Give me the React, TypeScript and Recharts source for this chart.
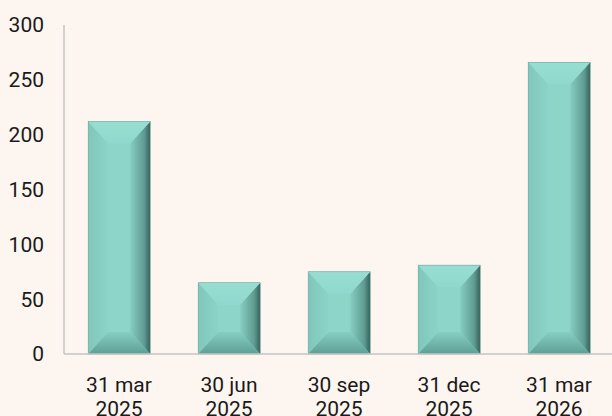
import { Bar, BarChart, XAxis, YAxis } from "recharts"

const categories = ["31 mar|2025", "30 jun|2025", "30 sep|2025", "31 dec|2025", "31 mar|2026"]
const values = [212, 65, 75, 81, 266]
const yTicks = [0, 50, 100, 150, 200, 250, 300]

const data = categories.map((c, i) => ({ name: c, value: values[i] }))

const BG = "#fdf5ef"
const FONT = "Roboto, 'Noto Sans', sans-serif"

function BevelBar(props: any) {
  const { x, y, width: w, height: h } = props
  if (!w || !h || h <= 0) return null
  const d = Math.min(22, w / 2, h / 2)
  const ds = Math.min(20, w / 2, h / 2)
  return (
    <g>
      <rect x={x} y={y} width={w} height={h} fill="#8dd4c9" />
      {/* left face */}
      <polygon points={`${x},${y} ${x + ds},${y + d} ${x + ds},${y + h - d} ${x},${y + h}`} fill="url(#bvLeft)" />
      {/* right face */}
      <polygon points={`${x + w},${y} ${x + w - ds},${y + d} ${x + w - ds},${y + h - d} ${x + w},${y + h}`} fill="url(#bvRight)" />
      {/* top face */}
      <polygon points={`${x},${y} ${x + w},${y} ${x + w - ds},${y + d} ${x + ds},${y + d}`} fill="url(#bvTop)" />
      {/* bottom face */}
      <polygon points={`${x},${y + h} ${x + w},${y + h} ${x + w - ds},${y + h - d} ${x + ds},${y + h - d}`} fill="url(#bvBottom)" />
      <rect x={x} y={y} width={w} height={h} fill="none" stroke="#6fa79d" strokeWidth={0.6} />
    </g>
  )
}

function XTick(props: any) {
  const { x, y, payload } = props
  const [a, b] = String(payload.value).split("|")
  return (
    <text x={x} y={y} textAnchor="middle" fontFamily={FONT} fontSize={21} fill="#1a1a1a">
      <tspan x={x} dy={30}>{a}</tspan>
      <tspan x={x} dy={23.5}>{b}</tspan>
    </text>
  )
}

export default function App() {
  return (
    <div style={{ position: "fixed", left: 0, top: 0, width: 612, height: 416, background: BG, overflow: "hidden" }}>
      <BarChart
        width={614}
        height={416}
        data={data}
        margin={{ top: 25, right: 0, bottom: 0, left: 0 }}
        barCategoryGap="22%"
      >
        <defs>
          <linearGradient id="bvTop" x1="0" y1="0" x2="0" y2="1">
            <stop offset="0%" stopColor="#97ddd2" />
            <stop offset="100%" stopColor="#90d8cd" />
          </linearGradient>
          <linearGradient id="bvBottom" x1="0" y1="0" x2="0" y2="1">
            <stop offset="0%" stopColor="#87cec2" />
            <stop offset="100%" stopColor="#5e9f94" />
          </linearGradient>
          <linearGradient id="bvRight" x1="0" y1="0" x2="1" y2="0">
            <stop offset="0%" stopColor="#86cdc2" />
            <stop offset="70%" stopColor="#5f9c92" />
            <stop offset="100%" stopColor="#36605a" />
          </linearGradient>
          <linearGradient id="bvLeft" x1="0" y1="0" x2="1" y2="0">
            <stop offset="0%" stopColor="#80c6bb" />
            <stop offset="100%" stopColor="#8bd3c8" />
          </linearGradient>
        </defs>
        <XAxis
          dataKey="name"
          height={62}
          tick={<XTick />}
          tickLine={false}
          axisLine={{ stroke: "#c4c4c4", strokeWidth: 1.5 }}
          interval={0}
        />
        <YAxis
          width={64}
          domain={[0, 300]}
          ticks={yTicks}
          tickLine={false}
          tickSize={0}
          tickMargin={20}
          axisLine={{ stroke: "#c4c4c4", strokeWidth: 1.5 }}
          tick={{ fontFamily: FONT, fontSize: 21, fill: "#1a1a1a" }}
        />
        <Bar dataKey="value" shape={<BevelBar />} isAnimationActive={false} />
      </BarChart>
    </div>
  )
}
